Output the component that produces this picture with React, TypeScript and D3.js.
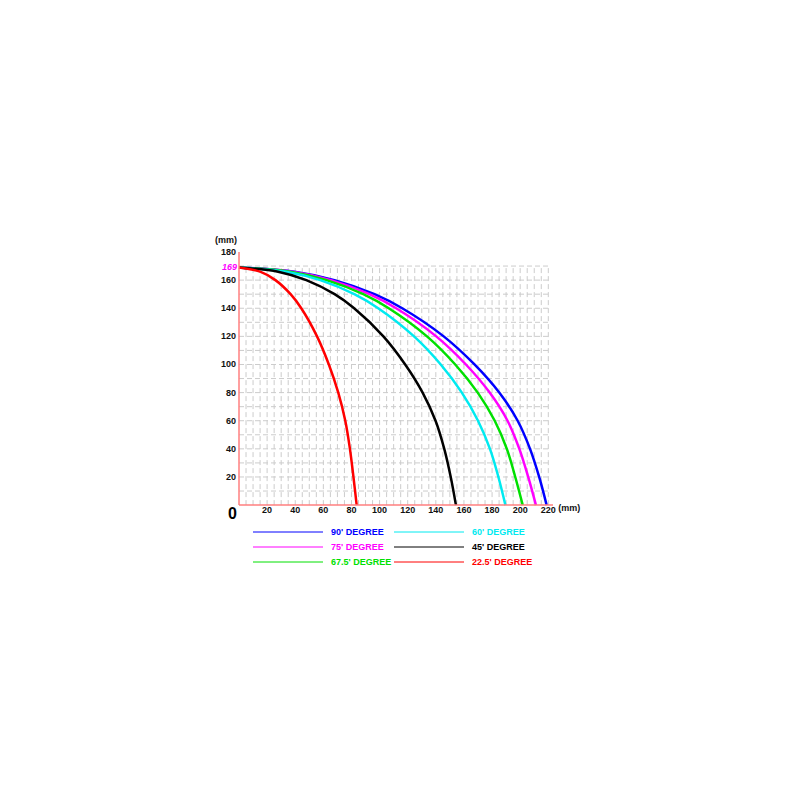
import React from "react";
import * as d3 from "d3";

const xTicks = [20, 40, 60, 80, 100, 120, 140, 160, 180, 200, 220];
const yTicks = [20, 40, 60, 80, 100, 120, 140, 160, 180];
const startHeight = 169;

// heights (mm) at which points were read
const heights = [169, 166, 160, 150, 140, 120, 100, 80, 60, 40, 20, 0];
// horizontal distance (mm) of each curve at those heights
const deg90 = [0, 39.4, 67.9, 96.4, 116.1, 145.6, 167.5, 185.1, 198.2, 207, 213.5, 218.8];
const deg75 = [0, 38, 65.4, 92.8, 111.8, 140.3, 161.4, 178.3, 191, 199.4, 205.7, 211.2];
const deg675 = [0, 36.2, 62.3, 88.4, 106.5, 133.7, 153.8, 169.8, 181.9, 190.5, 196.5, 201.8];
const deg60 = [0, 33.5, 57.8, 82, 99, 124.5, 143.5, 158.5, 170, 178.5, 184.5, 189.5];
const deg45 = [0, 27.8, 47.9, 68, 81.9, 102.7, 118.2, 130.6, 139.8, 146, 150.6, 154.3];
const deg225 = [0, 15, 25.9, 36.7, 44.3, 55.5, 63.9, 70.6, 75.6, 78.9, 81.4, 83.7];

const seriesNames = ["90' DEGREE", "75' DEGREE", "67.5' DEGREE", "60' DEGREE", "45' DEGREE", "22.5' DEGREE"];
const seriesColors = ["#0000ff", "#ff00ff", "#00e000", "#00eaf0", "#000000", "#ff0000"];
const seriesData = [deg90, deg75, deg675, deg60, deg45, deg225];

export default function App() {
  const x = d3.scaleLinear().domain([0, 220]).range([239, 548.3]);
  const y = d3.scaleLinear().domain([0, 180]).range([505.1, 252]);
  const line = d3
    .line<[number, number]>()
    .x((d) => x(d[0]))
    .y((d) => y(d[1]))
    .curve(d3.curveCatmullRom.alpha(0.5));

  const vGrid = d3.range(5, 221, 5);
  const hGrid = d3.range(10, 171, 10);
  const axisColor = "#ff7f7f";
  const font = "'Liberation Sans', Arial, sans-serif";

  const legendPos = [
    { lx: 253, ly: 532 },
    { lx: 253, ly: 547 },
    { lx: 253, ly: 562 },
    { lx: 394, ly: 532 },
    { lx: 394, ly: 547 },
    { lx: 394, ly: 562 },
  ];

  return (
    <svg
      width={800}
      height={800}
      style={{ position: "absolute", left: 0, top: 0, background: "#fff" }}
      fontFamily={font}
    >
      <rect width={800} height={800} fill="#fff" />
      {/* grid */}
      <g stroke="#cccccc" strokeWidth={1} strokeDasharray="5,3">
        {vGrid.map((v) => (
          <line key={"v" + v} x1={x(v)} x2={x(v)} y1={y(0)} y2={y(170)} />
        ))}
        {hGrid.map((v) => (
          <line key={"h" + v} x1={x(0)} x2={x(220)} y1={y(v)} y2={y(v)} />
        ))}
      </g>
      {/* curves */}
      {seriesData.map((xs, i) => (
        <path
          key={i}
          d={line(xs.map((xv, j) => [xv, heights[j]] as [number, number])) || ""}
          fill="none"
          stroke={seriesColors[i]}
          strokeWidth={2.5}
        />
      ))}
      {/* axes */}
      <line x1={x(0)} x2={x(0)} y1={y(0)} y2={y(180)} stroke={axisColor} strokeWidth={1.5} />
      <line x1={x(0)} x2={553} y1={y(0)} y2={y(0)} stroke={axisColor} strokeWidth={1.5} />
      {/* tick labels */}
      <g fontSize={9} fontWeight="bold" fill="#111">
        {xTicks.map((t) => (
          <text key={"xt" + t} x={x(t)} y={y(0) + 8} textAnchor="middle">
            {t}
          </text>
        ))}
        {yTicks.map((t) => (
          <text key={"yt" + t} x={x(0) - 3} y={y(t) + 3} textAnchor="end">
            {t}
          </text>
        ))}
        <text x={x(0) - 2} y={243} textAnchor="end">(mm)</text>
        <text x={x(220) + 10} y={y(0) + 6}>(mm)</text>
      </g>
      <text
        x={x(0) - 2}
        y={y(startHeight) + 3}
        textAnchor="end"
        fontSize={9}
        fontWeight="bold"
        fontStyle="italic"
        fill="#ff00ff"
      >
        {startHeight}
      </text>
      <text x={x(0) - 2} y={y(0) + 14} textAnchor="end" fontSize={16} fontWeight="bold" fill="#000">
        0
      </text>
      {/* legend */}
      {seriesNames.map((name, i) => (
        <g key={"lg" + i}>
          <line
            x1={legendPos[i].lx}
            x2={legendPos[i].lx + 70}
            y1={legendPos[i].ly}
            y2={legendPos[i].ly}
            stroke={seriesColors[i]}
            strokeWidth={1}
          />
          <text
            x={legendPos[i].lx + 78}
            y={legendPos[i].ly + 3}
            fontSize={9}
            fontWeight="bold"
            fill={seriesColors[i]}
          >
            {name}
          </text>
        </g>
      ))}
    </svg>
  );
}
